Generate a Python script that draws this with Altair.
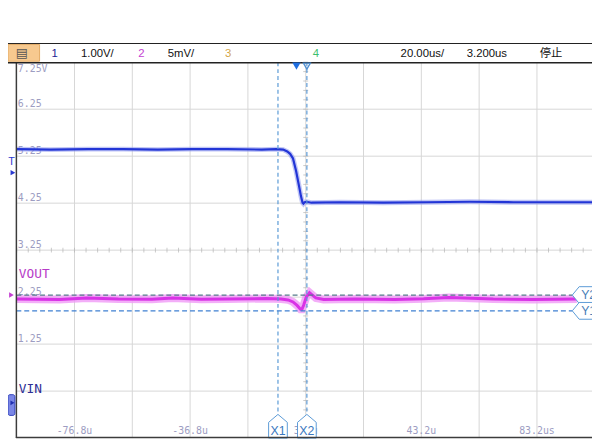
import altair as alt
import pandas as pd

# ---------------- data ----------------
# Channel 1 (VIN, 1.00 V/div) : time in us, volts
vin_t = [-96.8, -85.0, -72.0, -60.0, -48.0, -36.0, -24.0, -12.0, -7.0, -4.6, -3.2, -2.2,
         -1.2, -0.15, 0.9, 1.55, 2.1, 2.4, 2.8, 3.5, 5.2, 15.0, 30.0, 45.0, 60.0, 75.0, 90.0, 103.2]
vin_v = [5.40, 5.39, 5.40, 5.40, 5.39, 5.40, 5.40, 5.39, 5.40, 5.39, 5.35, 5.30,
         5.20, 4.94, 4.61, 4.40, 4.26, 4.24, 4.27, 4.28, 4.26, 4.27, 4.26, 4.27, 4.28, 4.27, 4.27, 4.27]

# Channel 2 (VOUT, 5 mV/div) : time in us, millivolts relative to the ch2 ground marker
vout_t = [-96.8, -82.0, -72.5, -61.6, -50.0, -42.8, -33.0, -24.0, -10.4, -5.3, -2.9, -1.2,
          0.2, 1.4, 1.9, 2.5, 3.4, 4.5, 5.3, 6.7, 9.4, 20.3, 34.0, 44.0, 52.8, 68.1, 81.8, 97.0]
vout_mv = [-0.42, -0.47, -0.31, -0.42, -0.45, -0.31, -0.44, -0.42, -0.37, -0.42, -0.52, -0.73,
           -1.10, -1.52, -1.52, -1.05, -0.21, 0.26, 0.05, -0.31, -0.47, -0.42, -0.47, -0.40, -0.26, -0.42, -0.47, -0.42]

# grid / scale annotations
grid_t = [-76.8, -56.8, -36.8, -16.8, 3.2, 23.2, 43.2, 63.2, 83.2]
grid_v = [0.25, 1.25, 2.25, 3.25, 4.25, 5.25, 6.25]
xlab_t = [-76.8, -36.8, 3.2, 43.2, 83.2]
xlab_s = ["-76.8u", "-36.8u", "3.2u", "43.2u", "83.2us"]
ylab_v = [6.25, 5.25, 4.25, 3.25, 2.25, 1.25]
ylab_s = ["6.25", "5.25", "4.25", "3.25", "2.25", "1.25"]
minor_t = [round(-96.8 + 4 * k, 2) for k in range(51)]
minor_v = [round(-0.75 + 0.2 * k, 2) for k in range(41)]

# cursors
xcur_t = [-6.4, 3.6]
xcur_s = ["X1", "X2"]
ycur_mv = [0.0, -1.68]
ycur_s = ["Y2", "Y1"]
trig_t = 0.0
trig_level = 4.9

header_texts = ["1", "1.00V/", "2", "5mV/", "3", "4", "20.00us/", "3.200us", "停止"]

# ---------------- scales ----------------
xs = alt.Scale(domain=[-96.8, 103.2], range=[8.8, 594.8], nice=False, zero=False)
ys = alt.Scale(domain=[-0.75, 7.25], range=[433, 52], nice=False, zero=False)
ym = alt.Scale(domain=[-15.22, 24.78], range=[433, 52], nice=False, zero=False)

one = pd.DataFrame({"k": [0]})


def txt(s, x, y, color, size, font="Liberation Sans", align="left", baseline="alphabetic"):
    return alt.Chart(one).mark_text(text=s, font=font, fontSize=size, color=color,
                                    align=align, baseline=baseline).encode(
        x=alt.value(x), y=alt.value(y))


def hline(y, x1, x2, color, w=1.0):
    return alt.Chart(one).mark_rule(color=color, strokeWidth=w).encode(
        y=alt.value(y), x=alt.value(x1), x2=alt.value(x2))


def vline(x, y1, y2, color, w=1.0):
    return alt.Chart(one).mark_rule(color=color, strokeWidth=w).encode(
        x=alt.value(x), y=alt.value(y1), y2=alt.value(y2))


GRID = "#d6d6d6"
LAB = "#9d9dc2"

layers = []

# grid
layers.append(alt.Chart(pd.DataFrame({"t": grid_t})).mark_rule(color=GRID, strokeWidth=1).encode(
    x=alt.X("t:Q", scale=xs, axis=None), y=alt.value(52), y2=alt.value(433)))
layers.append(alt.Chart(pd.DataFrame({"v": grid_v})).mark_rule(color=GRID, strokeWidth=1).encode(
    y=alt.Y("v:Q", scale=ys, axis=None), x=alt.value(8.8), x2=alt.value(592)))

# minor ticks on the centre lines
layers.append(alt.Chart(pd.DataFrame({"t": minor_t, "v": [3.25] * len(minor_t)})).mark_tick(
    orient="vertical", size=5, thickness=1, color="#b4b4b4").encode(
    x=alt.X("t:Q", scale=xs, axis=None), y=alt.Y("v:Q", scale=ys, axis=None)))
layers.append(alt.Chart(pd.DataFrame({"t": [3.2] * len(minor_v), "v": minor_v})).mark_tick(
    orient="horizontal", size=5, thickness=1, color="#b4b4b4").encode(
    x=alt.X("t:Q", scale=xs, axis=None), y=alt.Y("v:Q", scale=ys, axis=None)))

# scale labels
layers.append(alt.Chart(pd.DataFrame({"v": ylab_v, "s": ylab_s})).mark_text(
    font="DejaVu Sans Mono", fontSize=10, color=LAB, align="left", baseline="alphabetic", dy=-2).encode(
    y=alt.Y("v:Q", scale=ys, axis=None), x=alt.value(10), text="s:N"))
layers.append(txt("7.25V", 10, 62, LAB, 10, font="DejaVu Sans Mono"))
layers.append(alt.Chart(pd.DataFrame({"t": xlab_t, "s": xlab_s})).mark_text(
    font="DejaVu Sans Mono", fontSize=10, color=LAB, align="center", baseline="alphabetic").encode(
    x=alt.X("t:Q", scale=xs, axis=None), y=alt.value(429), text="s:N"))

# channel names
layers.append(txt("VOUT", 11, 271, "#b73cc8", 13, font="DejaVu Sans Mono"))
layers.append(txt("VIN", 11, 387, "#2f2f96", 13, font="DejaVu Sans Mono"))

# traces
vin = pd.DataFrame({"t": vin_t, "v": vin_v})
vout = pd.DataFrame({"t": vout_t, "mv": vout_mv})
layers.append(alt.Chart(vin).mark_line(color="#8e98ee", strokeWidth=5, opacity=0.55).encode(
    x=alt.X("t:Q", scale=xs, axis=None), y=alt.Y("v:Q", scale=ys, axis=None)))
layers.append(alt.Chart(vin).mark_line(color="#2235d6", strokeWidth=2.2).encode(
    x=alt.X("t:Q", scale=xs, axis=None), y=alt.Y("v:Q", scale=ys, axis=None)))
layers.append(alt.Chart(vout).mark_line(color="#f09af6", strokeWidth=8, opacity=0.8).encode(
    x=alt.X("t:Q", scale=xs, axis=None), y=alt.Y("mv:Q", scale=ym, axis=None)))
layers.append(alt.Chart(vout).mark_line(color="#d932e6", strokeWidth=3).encode(
    x=alt.X("t:Q", scale=xs, axis=None), y=alt.Y("mv:Q", scale=ym, axis=None)))

# cursors
xc = pd.DataFrame({"t": xcur_t, "s": xcur_s})
layers.append(alt.Chart(xc).mark_rule(color="#5b9ad6", strokeWidth=1.2, strokeDash=[4, 3]).encode(
    x=alt.X("t:Q", scale=xs, axis=None), y=alt.value(52), y2=alt.value(409)))
layers.append(alt.Chart(pd.DataFrame({"mv": ycur_mv[:1]})).mark_rule(
    color="#557a8a", strokeWidth=1.2, strokeDash=[5, 3]).encode(
    y=alt.Y("mv:Q", scale=ym, axis=None), x=alt.value(8.5), x2=alt.value(572)))
layers.append(alt.Chart(pd.DataFrame({"mv": ycur_mv[1:]})).mark_rule(
    color="#3f80d2", strokeWidth=1.2, strokeDash=[5, 3]).encode(
    y=alt.Y("mv:Q", scale=ym, axis=None), x=alt.value(8.5), x2=alt.value(572)))

XBOX = "M0,-1L0.79,-0.33L0.79,1L-0.79,1L-0.79,-0.33Z"
YBOX = "M-1,0L-0.46,-0.654L1,-0.654L1,0.654L-0.46,0.654Z"
layers.append(alt.Chart(xc).mark_point(shape=XBOX, size=576, filled=True, fill="white",
                                        stroke="#5b9ad6", strokeWidth=1, opacity=1).encode(
    x=alt.X("t:Q", scale=xs, axis=None), y=alt.value(421)))
layers.append(alt.Chart(xc).mark_text(font="Liberation Sans", fontSize=12.5, color="#3a78c0",
                                       align="center", baseline="alphabetic").encode(
    x=alt.X("t:Q", scale=xs, axis=None), y=alt.value(430), text="s:N"))
yc = pd.DataFrame({"mv": ycur_mv, "s": ycur_s})
layers.append(alt.Chart(yc).mark_point(shape=YBOX, size=676, filled=True, fill="white",
                                        stroke="#5b9ad6", strokeWidth=1, opacity=1).encode(
    y=alt.Y("mv:Q", scale=ym, axis=None), x=alt.value(585)))
layers.append(alt.Chart(yc).mark_text(font="Liberation Sans", fontSize=12.5, color="#4a80b8",
                                       align="left", baseline="middle").encode(
    y=alt.Y("mv:Q", scale=ym, axis=None), x=alt.value(581), text="s:N"))

# borders and header
layers.append(vline(8.5, 52, 433, "#3c3c3c", 1.5))
layers.append(hline(432.5, 8, 592, "#3c3c3c", 1.5))
layers.append(hline(33, 0, 592, "#222222", 1.2))
layers.append(hline(52.5, 0, 592, "#222222", 1.4))
layers.append(alt.Chart(one).mark_rect(fill="#f7c98f", stroke="#e3ab66", strokeWidth=1).encode(
    x=alt.value(0), x2=alt.value(32), y=alt.value(34), y2=alt.value(51)))
layers.append(txt("▤", 14, 43, "#555555", 13, font="DejaVu Sans", align="center", baseline="middle"))

hx = [44, 74, 132, 162, 220, 309, 398, 465, 539]
hc = ["#1c1c94", "#111111", "#c43fd2", "#111111", "#d3a64a", "#3cbf6e", "#111111", "#111111", "#111111"]
for s, x, c in zip(header_texts, hx, hc):
    f = "Noto Sans CJK SC" if s == "停止" else "Liberation Sans"
    layers.append(txt(s, x, 47, c, 11.5, font=f))

# top markers: trigger position and X2 cursor marker
layers.append(alt.Chart(pd.DataFrame({"t": [trig_t]})).mark_point(
    shape="triangle-down", filled=True, color="#1f6ee0", size=70, opacity=1).encode(
    x=alt.X("t:Q", scale=xs, axis=None), y=alt.value(56)))
layers.append(alt.Chart(pd.DataFrame({"t": xcur_t[1:]})).mark_point(
    shape="triangle-down", filled=False, color="#4f8fd2", size=50, strokeWidth=1.3, opacity=1).encode(
    x=alt.X("t:Q", scale=xs, axis=None), y=alt.value(56)))

# left side markers
layers.append(txt("T", 3.5, 156, "#2a3ad0", 11, align="center"))
layers.append(alt.Chart(pd.DataFrame({"v": [trig_level]})).mark_point(
    shape="triangle-right", filled=True, color="#2a3ad0", size=30, opacity=1).encode(
    y=alt.Y("v:Q", scale=ys, axis=None), x=alt.value(5)))
layers.append(alt.Chart(pd.DataFrame({"mv": [0.0]})).mark_point(
    shape="triangle-right", filled=True, color="#c43fd2", size=30, opacity=1).encode(
    y=alt.Y("mv:Q", scale=ym, axis=None), x=alt.value(3.5)))
layers.append(alt.Chart(one).mark_rect(fill="#7a86e6", stroke="#3344bb", strokeWidth=1, cornerRadius=2).encode(
    x=alt.value(0), x2=alt.value(7), y=alt.value(389), y2=alt.value(410)))
layers.append(alt.Chart(pd.DataFrame({"v": [0.0]})).mark_point(
    shape="triangle-right", filled=True, color="#2030b0", size=22, opacity=1).encode(
    y=alt.Y("v:Q", scale=ys, axis=None), x=alt.value(4.5)))

chart = alt.layer(*layers).resolve_scale(y="independent").properties(
    width=592, height=433, padding=0, autosize=alt.AutoSizeParams(type="none"),
    background="white",
).configure_view(stroke=None)

chart.save("out.html", embed_options={"renderer": "svg", "actions": False})
